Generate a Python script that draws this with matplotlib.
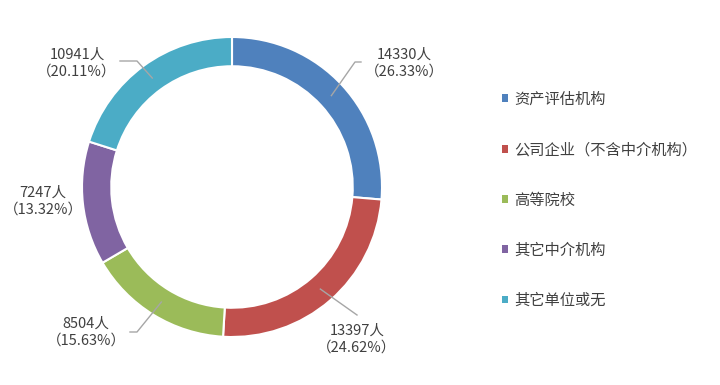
import numpy as np
import matplotlib
matplotlib.use('Agg')
import matplotlib.pyplot as plt

plt.rcParams['font.family'] = ['Noto Sans CJK SC', 'DejaVu Sans']

categories = ['资产评估机构', '公司企业（不含中介机构）', '高等院校', '其它中介机构', '其它单位或无']
counts = [14330, 13397, 8504, 7247, 10941]
pcts = ['26.33%', '24.62%', '15.63%', '13.32%', '20.11%']
colors = ['#4F81BD', '#C0504D', '#9BBB59', '#8064A2', '#4BACC6']

# label text centre (pixels), leader elbow points (pixels) or None
label_px = [(404, 63), (357, 339), (86, 332), (43, 201), (77, 63)]
elbows = [[(355, 62), (361, 62)], [(357, 315)], [(137, 332), (130, 332)], None,
          [(137, 61), (120, 61)]]

W, H = 720, 385
cx, cy, R = 232, 187, 150

fig = plt.figure(figsize=(7.2, 3.85), dpi=100)
ax = fig.add_axes([(cx - R) / W, (H - cy - R) / H, 2 * R / W, 2 * R / H])
wedges, _ = ax.pie(counts, colors=colors, startangle=90, counterclock=False,
                   radius=1.0, wedgeprops=dict(width=0.195, edgecolor='white', linewidth=1.5))
ax.set_xlim(-1, 1)
ax.set_ylim(-1, 1)
ax.set_aspect('equal')
ax.axis('off')


def to_data(p):
    return (p[0] - cx) / R, (cy - p[1]) / R


for i, w in enumerate(wedges):
    ang = np.deg2rad((w.theta1 + w.theta2) / 2)
    x0, y0 = 0.9 * np.cos(ang), 0.9 * np.sin(ang)
    if elbows[i] is not None:
        pts = [(x0, y0)] + [to_data(p) for p in elbows[i]]
        xs, ys = zip(*pts)
        ax.plot(xs, ys, color='#A6A6A6', lw=1, clip_on=False)
    tx, ty = to_data(label_px[i])
    ax.text(tx, ty, f'{counts[i]}人\n（{pcts[i]}）', ha='center', va='center',
            fontsize=10.5, color='#404040', linespacing=1.25, clip_on=False)

leg = fig.legend(wedges, categories, loc='upper left', bbox_to_anchor=(488 / W, 1 - 77 / H),
                 frameon=False, fontsize=11, handlelength=0.42, handleheight=0.42,
                 handletextpad=0.38, labelspacing=2.18, labelcolor='#404040')
for h in leg.legend_handles:
    h.set_edgecolor('none')

fig.savefig('out.png', dpi=100)
